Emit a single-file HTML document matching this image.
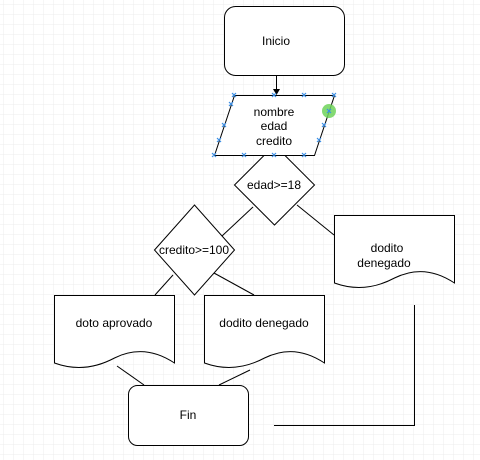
<!DOCTYPE html>
<html><head><style>
html,body{margin:0;padding:0;background:#fff;}
svg{display:block;}
text{font-family:"Liberation Sans",Arial,sans-serif;font-size:12px;fill:#000;}
</style></head><body>
<svg width="480" height="460" viewBox="0 0 480 460" xmlns="http://www.w3.org/2000/svg">
<defs>
<pattern id="minor" width="10" height="10" patternUnits="userSpaceOnUse" x="4" y="5">
<path d="M10 0V10M0 10H10" stroke="#ececec" stroke-width="1" fill="none"/>
</pattern>
<pattern id="major" width="40" height="40" patternUnits="userSpaceOnUse" x="-26" y="-15">
<path d="M40.5 0V40M0 40.5H40" stroke="#d8d8d8" stroke-width="1" fill="none"/>
</pattern>
</defs>
<rect width="480" height="460" fill="url(#minor)"/>
<rect width="480" height="460" fill="url(#major)"/>
<g stroke="#000" stroke-width="1" fill="#fff">
<rect x="224.5" y="6.5" width="120" height="69" rx="11"/>
<line x1="276.5" y1="75" x2="276.5" y2="92"/>
<polygon points="234.5,185 274.5,145 314.5,185 274.5,225"/>
<polygon points="234.5,95.5 334.5,95.5 314.5,155.5 214.5,155.5"/>
<polygon points="154.5,250 194.5,205 234.5,250 194.5,295"/>
<line x1="253" y1="207" x2="222" y2="236"/>
<line x1="297" y1="205" x2="334" y2="235"/>
<line x1="173" y1="275" x2="155" y2="295"/>
<line x1="214" y1="273" x2="254" y2="295"/>
<path d="M334.5,215.5H454.5V283 Q424.5,263 394.5,278 Q364.5,294 334.5,283Z"/>
<path d="M54.5,295.5H174.5V363 Q144.5,343 114.5,358 Q84.5,374 54.5,363Z"/>
<path d="M204.5,295.5H324.5V363 Q294.5,343 264.5,358 Q234.5,374 204.5,363Z"/>
<line x1="117" y1="366" x2="144" y2="385"/>
<line x1="250" y1="370" x2="219" y2="385"/>
<rect x="128.5" y="385.5" width="120" height="60" rx="9"/>
<polyline points="414.5,305 414.5,425.5 274,425.5" fill="none"/>
</g>
<path d="M273,89L276.5,95L280,89Z" fill="#000"/>
<circle cx="329" cy="111" r="7" fill="#6ed35a" opacity="0.85"/>
<g stroke="#3a8ee6" stroke-width="1.2">
<path d="M232,93l4,4M236,93l-4,4 M272,93l4,4M276,93l-4,4 M302,93l4,4M306,93l-4,4 M332,93l4,4M336,93l-4,4 M212,153l4,4M216,153l-4,4 M242,153l4,4M246,153l-4,4 M272,153l4,4M276,153l-4,4 M302,153l4,4M306,153l-4,4 M229,102l4,4M233,102l-4,4 M222,123l4,4M226,123l-4,4 M217,138l4,4M221,138l-4,4 M322,123l4,4M326,123l-4,4 M317,138l4,4M321,138l-4,4 M327,109l4,4M331,109l-4,4"/>
</g>
<text x="276" y="45" text-anchor="middle">Inicio</text>
<text x="274" y="116" text-anchor="middle">nombre</text>
<text x="274" y="130" text-anchor="middle">edad</text>
<text x="274" y="145" text-anchor="middle">credito</text>
<text x="274" y="189" text-anchor="middle">edad&gt;=18</text>
<text x="194" y="254" text-anchor="middle">credito&gt;=100</text>
<text x="387" y="252" text-anchor="middle">dodito</text>
<text x="384" y="267" text-anchor="middle">denegado</text>
<text x="114" y="327" text-anchor="middle">doto aprovado</text>
<text x="264" y="327" text-anchor="middle">dodito denegado</text>
<text x="188" y="419" text-anchor="middle">Fin</text>
</svg>
</body></html>
